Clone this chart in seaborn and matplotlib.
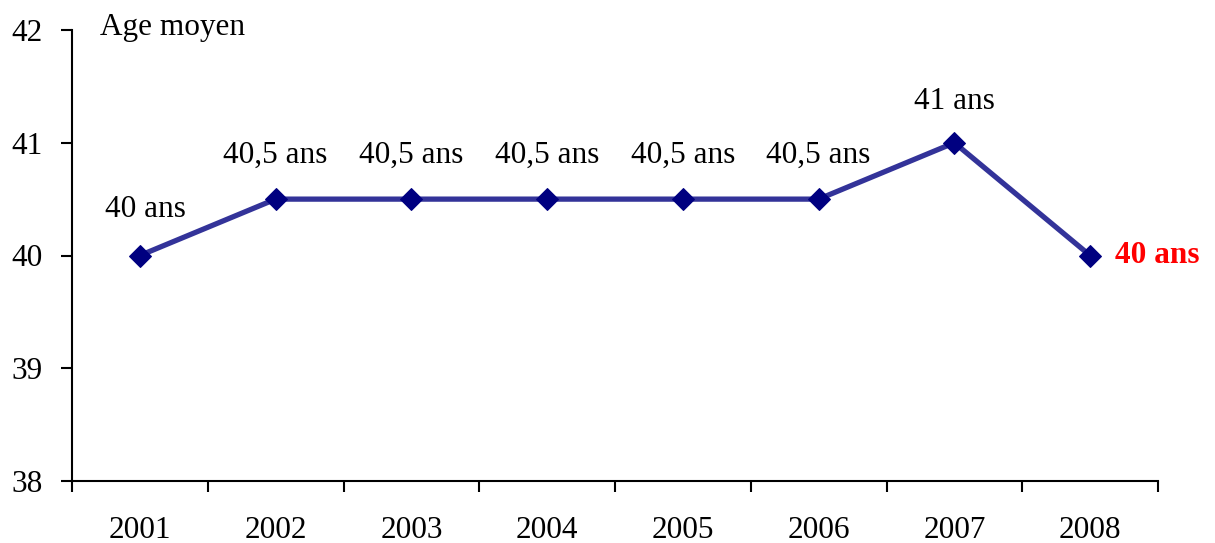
import matplotlib
matplotlib.use("Agg")
import matplotlib.pyplot as plt
import seaborn as sns
import pandas as pd
import numpy as np

years = ["2001", "2002", "2003", "2004", "2005", "2006", "2007", "2008"]
ages = [40, 40.5, 40.5, 40.5, 40.5, 40.5, 41, 40]
labels = ["40 ans", "40,5 ans", "40,5 ans", "40,5 ans", "40,5 ans", "40,5 ans", "41 ans", "40 ans"]
yticks = [38, 39, 40, 41, 42]

sns.set_style("white")
plt.rcParams['font.family'] = ['Liberation Serif', 'DejaVu Serif']
plt.rcParams['text.color'] = 'black'
plt.rcParams['xtick.color'] = 'black'
plt.rcParams['ytick.color'] = 'black'

FS = 22.5

fig = plt.figure(figsize=(12.15, 5.43), dpi=100)
ax = fig.add_axes([72/1215, 1-481/543, (1158-72)/1215, (481-30)/543])

df = pd.DataFrame({"pos": np.arange(len(years)), "age": ages})
sns.lineplot(data=df, x="pos", y="age", ax=ax, color="#333399", linewidth=3.8,
             marker="D", markersize=11, markerfacecolor="#000080",
             markeredgecolor="#000080", zorder=3)

ax.set_xlim(-0.5, len(years) - 0.5)
ax.set_ylim(38, 42)
ax.set_yticks(yticks)
ax.set_yticklabels([str(v) for v in yticks], fontsize=FS, color="black")
ax.set_xticks(np.arange(len(years) + 1) - 0.5)
ax.set_xticklabels([])
ax.set_xticks(np.arange(len(years)), minor=True)
ax.set_xticklabels(years, minor=True, fontsize=FS, color="black")
ax.tick_params(axis="x", which="minor", length=0, pad=25)
ax.tick_params(axis="x", which="major", direction="out", length=8, width=1.5, bottom=True, color="black")
ax.tick_params(axis="y", direction="out", length=8, width=1.5, left=True, pad=13, color="black")
ax.set_xlabel("")
ax.set_ylabel("")
for s in ["top", "right"]:
    ax.spines[s].set_visible(False)
for s in ["left", "bottom"]:
    ax.spines[s].set_linewidth(1.5)
    ax.spines[s].set_color("black")

for i, (a, lab) in enumerate(zip(ages, labels)):
    if i == len(ages) - 1:
        ax.annotate(lab, (i, a), xytext=(18, 0), textcoords="offset points",
                    ha="left", va="center", fontsize=FS, fontweight="bold", color="red")
    else:
        dx = 4 if i == 0 else 0
        dy = {0: 23, 6: 19}.get(i, 21)
        ax.annotate(lab, (i, a), xytext=(dx, dy), textcoords="offset points",
                    ha="center", va="bottom", fontsize=FS, color="black")

fig.text(100/1215, 1-27/543, "Age moyen", ha="left", va="center", fontsize=FS, color="black")

fig.savefig("out.png", dpi=100)
